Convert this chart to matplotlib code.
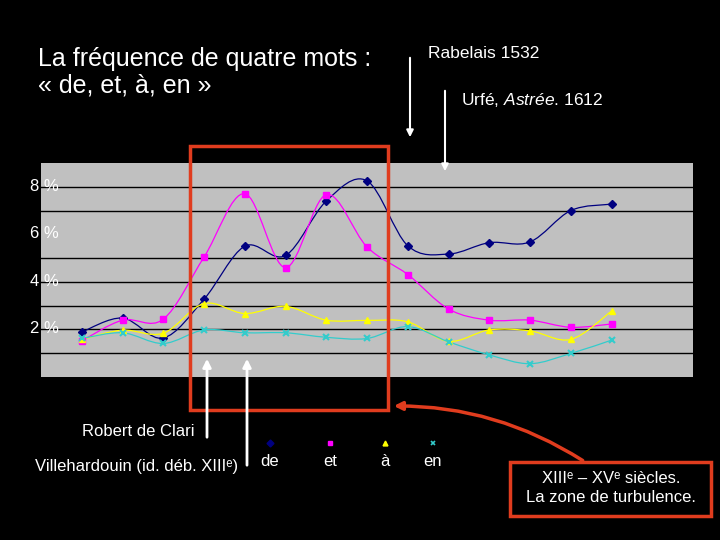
import matplotlib
matplotlib.use('Agg')
import matplotlib.pyplot as plt
from matplotlib.path import Path
from matplotlib.patches import PathPatch, Rectangle, FancyArrowPatch

# frequencies (%), 14 texts in chronological order
de = [1.89, 2.48, 1.64, 3.27, 5.50, 5.11, 7.40, 8.25, 5.52, 5.17, 5.65, 5.68, 7.00, 7.27]
et = [1.52, 2.39, 2.43, 5.04, 7.71, 4.60, 7.67, 5.47, 4.31, 2.86, 2.39, 2.39, 2.09, 2.23]
a_ = [1.58, 1.97, 1.84, 3.09, 2.67, 2.97, 2.39, 2.38, 2.32, 1.50, 1.98, 1.94, 1.58, 2.77]
en = [1.62, 1.86, 1.41, 1.98, 1.86, 1.86, 1.67, 1.62, 2.12, 1.48, 0.93, 0.56, 0.99, 1.55]
texts = list(range(1, 15))

series = [('de', de, '#000080', 'D', 4),
          ('et', et, '#ff00ff', 's', 4.5),
          ('à', a_, '#ffff00', '^', 5),
          ('en', en, '#33cccc', 'x', 5)]

RED = '#e03c1e'
FONT = ['Liberation Sans', 'DejaVu Sans']
plt.rcParams['font.family'] = FONT
plt.rcParams['mathtext.fontset'] = 'custom'
plt.rcParams['mathtext.rm'] = 'Liberation Sans'
plt.rcParams['mathtext.it'] = 'Liberation Sans:italic'


def smooth_path(x, y):
    # excel-like smoothed line: cubic bezier through the points
    verts = [(x[0], y[0])]
    codes = [Path.MOVETO]
    n = len(x)
    for i in range(n - 1):
        i0 = max(i - 1, 0)
        i3 = min(i + 2, n - 1)
        c1 = (x[i] + (x[i + 1] - x[i0]) / 6, y[i] + (y[i + 1] - y[i0]) / 6)
        c2 = (x[i + 1] - (x[i3] - x[i]) / 6, y[i + 1] - (y[i3] - y[i]) / 6)
        verts += [c1, c2, (x[i + 1], y[i + 1])]
        codes += [Path.CURVE4] * 3
    return Path(verts, codes)


fig = plt.figure(figsize=(7.2, 5.4), dpi=100, facecolor='black')
ax = fig.add_axes([41 / 720, 1 - 377 / 540, 652 / 720, 214 / 540])
ax.set_facecolor('#c0c0c0')
ax.set_xlim(0, 16)
ax.set_ylim(0, 9)
for g in [1, 2, 3, 4, 5, 7, 8]:
    ax.axhline(g, color='black', lw=1, zorder=1)
for name, vals, col, mk, ms in series:
    ax.add_patch(PathPatch(smooth_path(texts, vals), fill=False, edgecolor=col, lw=0.9, zorder=2))
    ax.plot(texts, vals, ls='none', marker=mk, color=col, ms=ms, mew=1.5 if mk == 'x' else 1, zorder=3)
ax.set_xticks([])
ax.set_yticks([])
for s in ax.spines.values():
    s.set_visible(False)

# overlay in pixel coords for all the slide annotations
ov = fig.add_axes([0, 0, 1, 1], facecolor='none')
ov.set_xlim(0, 720)
ov.set_ylim(540, 0)
ov.axis('off')

for v in [8, 6, 4, 2]:
    ov.text(30, 376.5 - v * 23.8, '%d %%' % v, color='white', fontsize=12, ha='left', va='center')

ov.text(38, 72, 'La fréquence de quatre mots :\n« de, et, à, en »', color='white',
        fontsize=18, ha='left', va='center', linespacing=1.15)

ov.text(428, 54, 'Rabelais 1532', color='white', fontsize=12.5, ha='left', va='center')
ov.text(461, 100, 'Urfé, $\\it{Astrée}$. 1612', color='white', fontsize=12.5, ha='left', va='center')
ov.annotate('', xy=(410, 140), xytext=(410, 55),
            arrowprops=dict(arrowstyle='-|>', color='white', lw=1.5, mutation_scale=10))
ov.annotate('', xy=(445, 174), xytext=(445, 88),
            arrowprops=dict(arrowstyle='-|>', color='white', lw=1.5, mutation_scale=10))

# zone of turbulence
ov.add_patch(Rectangle((190, 146), 198, 264, fill=False, edgecolor=RED, lw=2.5))

ov.annotate('', xy=(207, 356), xytext=(207, 440),
            arrowprops=dict(arrowstyle='-|>', color='white', lw=2, mutation_scale=12))
ov.annotate('', xy=(247, 356), xytext=(247, 468),
            arrowprops=dict(arrowstyle='-|>', color='white', lw=2, mutation_scale=12))
ov.text(194, 432, 'Robert de Clari', color='white', fontsize=12, ha='right', va='center')
ov.text(238, 466, 'Villehardouin (id. déb. XIIIᵉ)', color='white', fontsize=12, ha='right', va='center')

# legend, markers above the names
leg_x = [270, 330, 385, 433]
for (name, vals, col, mk, ms), lx in zip(series, leg_x):
    ov.plot([lx], [443], marker=mk, color=col, ms=3.5, mew=1.2 if mk == 'x' else 1, ls='none')
    ov.text(lx, 461, name, color='white', fontsize=12, ha='center', va='center')

ov.add_patch(Rectangle((510, 462), 201, 54, fill=False, edgecolor=RED, lw=2.5))
ov.text(611, 488, 'XIIIᵉ – XVᵉ siècles.\nLa zone de turbulence.', color='white',
        fontsize=12, ha='center', va='center', linespacing=1.3)
ov.add_patch(FancyArrowPatch((585, 462), (391, 406), connectionstyle='arc3,rad=0.15',
                             arrowstyle='-|>', color=RED, lw=2.5, mutation_scale=12))

fig.savefig('out.png', dpi=100, facecolor='black')
